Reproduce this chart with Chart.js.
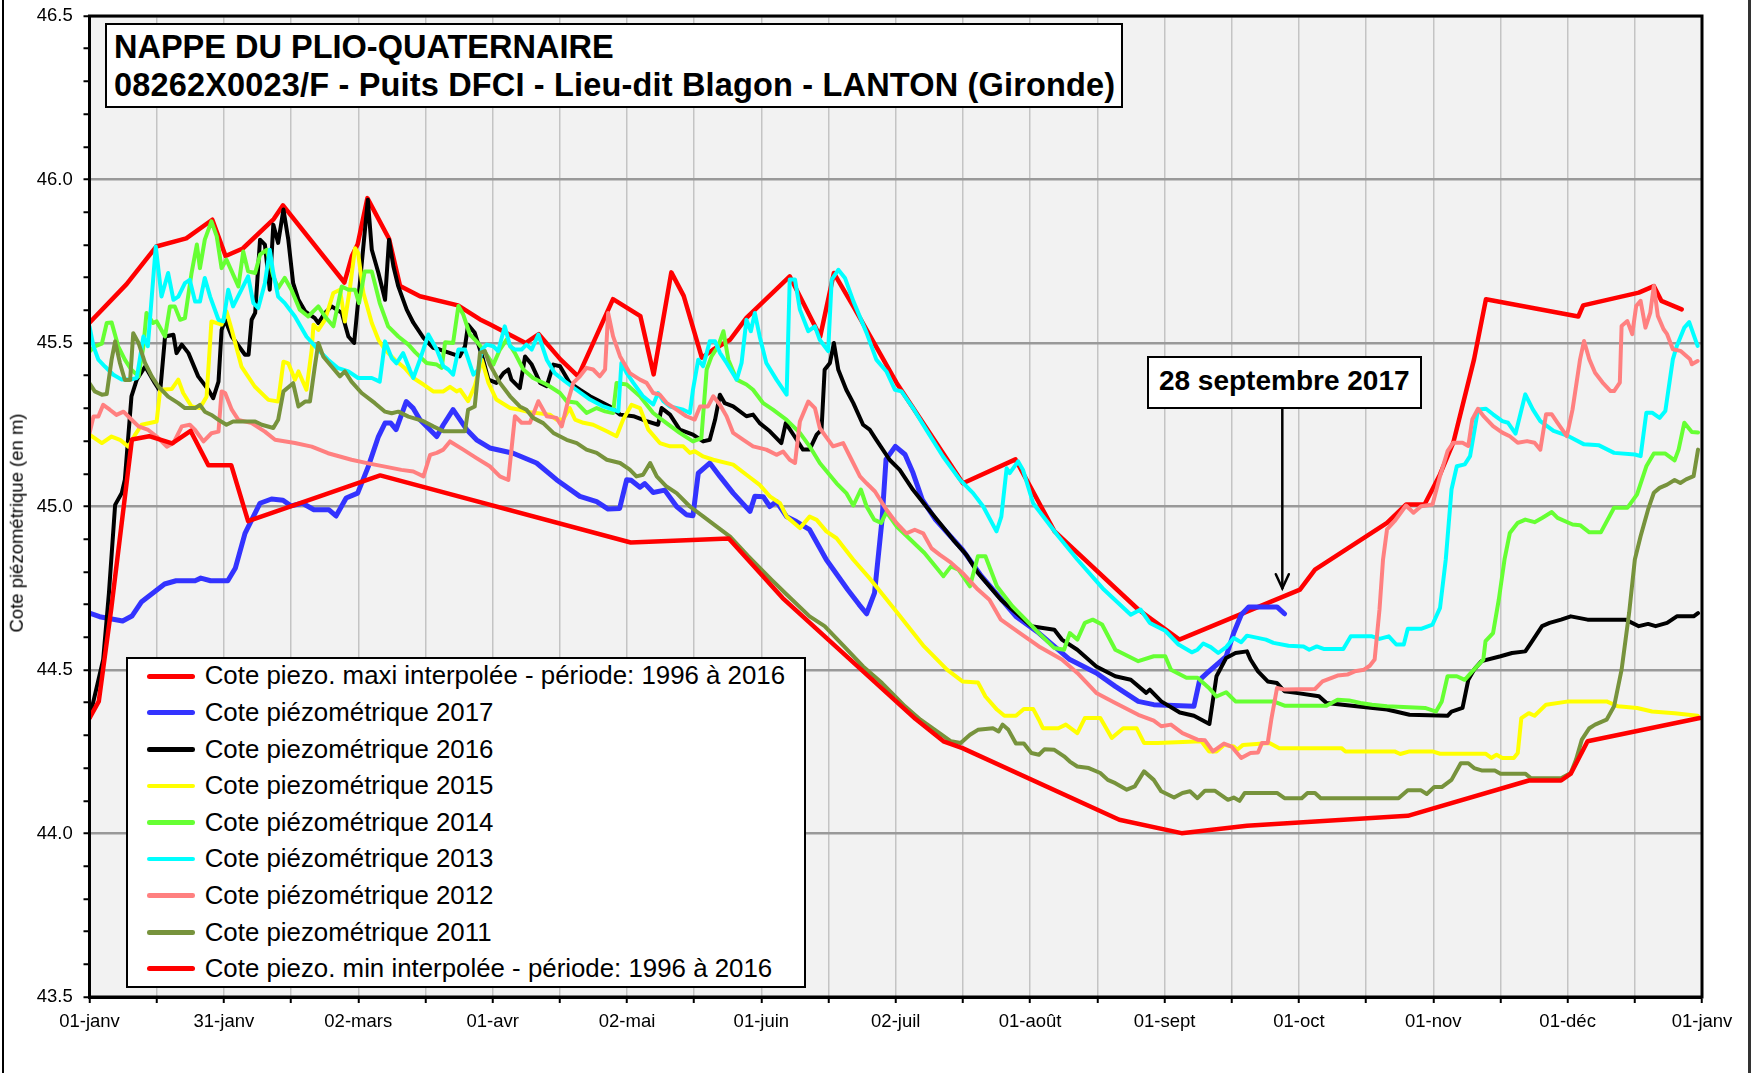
<!DOCTYPE html>
<html>
<head>
<meta charset="utf-8">
<script src="https://cdn.jsdelivr.net/npm/chart.js@4.4.1/dist/chart.umd.min.js"></script>
<style>
html,body{margin:0;padding:0;background:#fff;}
#wrap{position:relative;width:1754px;height:1073px;overflow:hidden;font-family:'Liberation Sans',Arial,sans-serif;color:#000;}
#c{position:absolute;left:0;top:0;}
.box{position:absolute;background:#fff;border:2px solid #000;box-sizing:border-box;}
.t{position:absolute;white-space:nowrap;line-height:1;color:#000;}
.vline{position:absolute;top:0;height:1073px;}
</style>
</head>
<body>
<div id="wrap">
<canvas id="c" width="1754" height="1073"></canvas>
</div>
<script>
// ---------------- DATA ----------------
const xTickLabels = ['01-janv','31-janv','02-mars','01-avr','02-mai','01-juin','02-juil','01-août','01-sept','01-oct','01-nov','01-déc','01-janv'];
const titleLines = ['NAPPE DU PLIO-QUATERNAIRE','08262X0023/F - Puits DFCI - Lieu-dit Blagon - LANTON (Gironde)'];
const yAxisTitle = 'Cote piézométrique (en m)';
const annotText = '28 septembre 2017';
const annotDay = 270;          // 28 septembre (day of year, 0 = 1er janvier)
const annotTipValue = 44.75;

const seriesLabels = [
  'Cote piezo. maxi interpolée - période: 1996 à 2016',
  'Cote piézométrique 2017',
  'Cote piezométrique 2016',
  'Cote piezométrique 2015',
  'Cote piézométrique 2014',
  'Cote piézométrique 2013',
  'Cote piézométrique 2012',
  'Cote piezométrique 2011',
  'Cote piezo. min interpolée - période: 1996 à 2016'
];

// [day of year, level (m)]
const maxiInterp = [[0,45.562],[8.4,45.68],[15.1,45.795],[21.9,45.82],[27.8,45.877],[30.8,45.766],[34.7,45.789],[41.7,45.879],[43.8,45.921],[57.7,45.685],[59.4,45.766],[60.7,45.802],[62.9,45.943],[67.8,45.819],[70.3,45.674],[74.8,45.643],[83.4,45.615],[88.4,45.572],[90.6,45.557],[98.7,45.5],[101.7,45.527],[106.6,45.45],[110.6,45.398],[118.5,45.634],[124.7,45.582],[127.7,45.404],[131.7,45.716],[134.5,45.644],[138.6,45.455],[141.2,45.48],[145,45.51],[148.7,45.577],[158.5,45.704],[165.4,45.52],[168.5,45.714],[172.9,45.612],[182.7,45.378],[197.7,45.071],[209.6,45.144],[218.4,44.925],[237.4,44.685],[246.7,44.593],[274,44.746],[277.4,44.807],[293.7,44.95],[298,45.006],[302.2,45.006],[305.7,45.098],[308.7,45.195],[313.4,45.45],[316.1,45.634],[337,45.581],[338.1,45.615],[350.7,45.654],[354.1,45.674],[355.8,45.629],[360.4,45.603]];

const cote2017 = [[0,44.674],[2.3,44.663],[7.5,44.65],[9.6,44.665],[11.8,44.709],[17,44.763],[19.6,44.773],[23.9,44.773],[25.2,44.781],[27.4,44.773],[31.3,44.773],[33,44.811],[35.2,44.918],[38.6,45.01],[41.2,45.023],[43.8,45.019],[45.6,45.002],[48.2,45.01],[50.8,44.99],[54.2,44.99],[55.8,44.971],[58.1,45.026],[60.7,45.041],[63.1,45.122],[65.4,45.214],[66.9,45.255],[68.2,45.255],[69.4,45.235],[71.7,45.321],[73.3,45.3],[74.8,45.265],[78.6,45.214],[80.1,45.25],[82.3,45.296],[85.4,45.235],[87.6,45.204],[90.6,45.179],[95.9,45.163],[101.2,45.133],[105.7,45.082],[111,45.031],[114.8,45.015],[117.4,44.992],[120,44.994],[121.6,45.082],[122.6,45.08],[124.6,45.059],[125.7,45.07],[127.6,45.043],[130.2,45.05],[132.9,45.0],[135.1,44.975],[136.6,44.972],[137.8,45.102],[140.4,45.133],[142.7,45.092],[145.7,45.041],[149.5,44.985],[150.6,45.031],[152.5,45.03],[154,45.0],[155.5,45.015],[157.8,44.969],[160,44.954],[163,44.929],[166.8,44.837],[171.6,44.746],[174.2,44.7],[175.9,44.672],[177.7,44.736],[179.4,44.96],[180.3,45.144],[182.4,45.184],[184.6,45.159],[186.4,45.103],[188.5,45.021],[191.5,44.96],[197.6,44.868],[201.9,44.787],[209.7,44.664],[214.9,44.613],[221.9,44.532],[227.9,44.491],[232.2,44.45],[237.4,44.404],[240.9,44.394],[250,44.389],[251.3,44.47],[253,44.491],[255.1,44.516],[257.3,44.542],[259,44.613],[260.7,44.669],[262.4,44.693],[268.8,44.693],[270.5,44.672]];

const cote2016 = [[0,44.353],[3.1,44.532],[4.4,44.736],[5.8,45.005],[7.3,45.041],[8,45.082],[9.5,45.337],[10.7,45.388],[12.6,45.428],[14.8,45.377],[16,45.352],[17.1,45.52],[19,45.525],[19.7,45.469],[20.9,45.495],[22.4,45.469],[24.6,45.398],[26.9,45.357],[28,45.331],[29.2,45.382],[29.9,45.54],[30.7,45.571],[32.2,45.52],[35.2,45.464],[36,45.464],[36.7,45.571],[37.5,45.592],[38.6,45.816],[39.7,45.801],[40.8,45.663],[41.6,45.862],[42.7,45.806],[43.9,45.908],[45,45.816],[46.1,45.683],[47.3,45.632],[48.8,45.597],[51,45.576],[51.8,45.561],[53.3,45.592],[54.8,45.612],[57.1,45.592],[58.6,45.52],[59.9,45.5],[61.2,45.683],[63,45.938],[63.9,45.785],[65.4,45.714],[66.9,45.632],[67.8,45.816],[68.8,45.734],[69.9,45.673],[71.8,45.602],[73.3,45.562],[75.6,45.516],[77.8,45.485],[79.3,45.48],[83.8,45.459],[85,45.49],[85.7,45.556],[87.2,45.531],[89.1,45.449],[90.3,45.388],[92.1,45.378],[93.7,45.408],[94.8,45.419],[95.5,45.388],[97.4,45.362],[98.6,45.459],[100.1,45.434],[102,45.378],[103.5,45.368],[105,45.434],[106.5,45.429],[108.7,45.378],[111,45.357],[113.3,45.337],[115.5,45.322],[117.8,45.306],[120.1,45.281],[123.1,45.276],[126.1,45.261],[128.7,45.25],[129.5,45.301],[131.4,45.281],[133.6,45.235],[136.6,45.22],[138.9,45.199],[140.4,45.204],[141.6,45.265],[142.7,45.342],[143.8,45.316],[145.7,45.306],[148.7,45.276],[150.2,45.281],[151.7,45.255],[154,45.23],[156.6,45.194],[157.6,45.255],[159.6,45.214],[161.5,45.174],[163,45.174],[164.6,45.22],[165.7,45.235],[166.4,45.418],[167.6,45.439],[168.5,45.5],[169.5,45.418],[171.3,45.357],[172.9,45.316],[175.1,45.25],[176.6,45.235],[178.1,45.204],[181.1,45.143],[183.4,45.112],[186.4,45.051],[189.4,45.0],[192.5,44.949],[195.5,44.898],[198.5,44.852],[201.1,44.797],[206.3,44.715],[213.2,44.634],[218.4,44.623],[220.1,44.593],[223.6,44.562],[227.9,44.511],[232.2,44.481],[235.7,44.47],[239.2,44.43],[240,44.44],[242.6,44.404],[246.8,44.37],[250,44.36],[253.5,44.335],[255.1,44.481],[257.3,44.537],[259.4,44.552],[262,44.557],[262.8,44.532],[264.5,44.496],[266.7,44.465],[268.8,44.46],[270.5,44.435],[273.1,44.43],[278.3,44.42],[280,44.399],[286.8,44.389],[293.7,44.379],[298.8,44.363],[307.4,44.36],[308.3,44.373],[310.8,44.384],[312.1,44.47],[313.4,44.501],[315.1,44.527],[319.4,44.542],[322,44.552],[325,44.557],[326.3,44.583],[328.8,44.634],[330.5,44.644],[333.1,44.654],[335.3,44.664],[339.1,44.654],[347.7,44.654],[350.7,44.634],[352.8,44.641],[354.5,44.634],[357.1,44.644],[359.3,44.664],[363.1,44.664],[364.1,44.674]];

const cote2015 = [[0,45.22],[2.8,45.194],[5,45.214],[6.9,45.204],[8.8,45.183],[10.3,45.219],[11.8,45.25],[15.2,45.26],[16,45.357],[18.6,45.359],[20.1,45.388],[21.2,45.347],[23.1,45.306],[25,45.301],[26.5,45.336],[27.6,45.566],[29.9,45.556],[31,45.597],[32.2,45.54],[34.4,45.428],[37.4,45.367],[40.5,45.326],[42.7,45.321],[43.9,45.443],[45,45.438],[46.5,45.388],[47.3,45.413],[49.1,45.357],[50.3,45.479],[50.7,45.556],[51.8,45.54],[53.3,45.571],[55.2,45.653],[56.7,45.663],[57.8,45.566],[59,45.673],[60.1,45.79],[60.8,45.775],[62,45.653],[63.9,45.561],[65.4,45.51],[66.9,45.479],[69.1,45.449],[71.4,45.423],[73.3,45.393],[75.6,45.373],[77.8,45.352],[80.1,45.352],[81.6,45.366],[83.1,45.352],[83.9,45.357],[85.7,45.322],[87.2,45.368],[88.8,45.449],[90.3,45.378],[92.1,45.327],[95.2,45.301],[97.4,45.296],[99.7,45.288],[104.2,45.281],[105.7,45.266],[107.2,45.266],[108.7,45.301],[109.9,45.266],[111.8,45.256],[114,45.25],[117.1,45.23],[119.3,45.215],[120.8,45.266],[122.7,45.311],[124.6,45.301],[126.5,45.235],[129.1,45.194],[131.4,45.184],[134.4,45.184],[135.9,45.164],[137,45.169],[138.9,45.153],[141.2,45.143],[145.7,45.128],[148.7,45.097],[151.7,45.066],[154,45.031],[156.3,45.01],[157.8,44.969],[160.8,44.934],[163,44.969],[164.6,44.959],[166.8,44.924],[169.1,44.903],[172.9,44.837],[176.8,44.777],[182.9,44.674],[188.9,44.572],[194.1,44.501],[197.6,44.465],[201.1,44.462],[202.8,44.419],[205.4,44.379],[207.1,44.36],[209.7,44.36],[211.5,44.381],[213.6,44.381],[214.9,44.348],[215.8,44.322],[219.3,44.322],[221,44.333],[223.6,44.307],[225.3,44.353],[228.8,44.353],[231.4,44.292],[234,44.322],[237,44.322],[238.7,44.277],[241.8,44.277],[251.7,44.282],[253.4,44.251],[255.1,44.251],[256.8,44.271],[259,44.266],[259.8,44.256],[261.1,44.271],[267.1,44.277],[269.3,44.261],[283.4,44.261],[284.3,44.251],[295.4,44.251],[296.7,44.243],[298.8,44.251],[304,44.251],[305.7,44.244],[316,44.244],[317.3,44.231],[318.5,44.241],[319.8,44.231],[322.4,44.231],[323.3,44.246],[324.1,44.353],[325.8,44.368],[327.1,44.36],[329.7,44.394],[334.8,44.404],[343.4,44.404],[346,44.389],[350.3,44.384],[353.7,44.373],[358.8,44.368],[364,44.36]];

const cote2014 = [[0,45.474],[1.2,45.49],[2.8,45.498],[3.9,45.561],[5,45.563],[6.5,45.49],[8,45.449],[9.5,45.418],[11.1,45.398],[12.2,45.49],[12.9,45.592],[14.4,45.561],[15.2,45.566],[17.1,45.52],[18.2,45.612],[19.3,45.612],[20.5,45.571],[21.6,45.576],[23.1,45.714],[24.3,45.801],[25,45.729],[26.1,45.816],[27.6,45.872],[28.8,45.826],[29.9,45.729],[31,45.755],[32.2,45.719],[33.7,45.673],[34.8,45.78],[35.9,45.719],[37.5,45.714],[38.6,45.77],[40.1,45.785],[41.6,45.704],[42.7,45.668],[44.2,45.699],[45.7,45.663],[47.6,45.602],[49.5,45.581],[51.8,45.612],[53.3,45.581],[55.2,45.551],[57.1,45.673],[58.6,45.663],[60.1,45.663],[61,45.622],[62.3,45.719],[63.9,45.719],[65.7,45.622],[67.6,45.551],[69.9,45.52],[72.2,45.495],[73.7,45.472],[76.3,45.439],[78.6,45.434],[79.7,45.424],[80.5,45.502],[82.3,45.5],[83.5,45.613],[84.6,45.587],[86.1,45.526],[87.6,45.505],[89.1,45.48],[91.4,45.434],[92.9,45.48],[94.4,45.51],[96.3,45.469],[98.2,45.419],[100.4,45.393],[103.5,45.373],[106.5,45.347],[108,45.322],[110.3,45.317],[112.5,45.286],[114.8,45.301],[116.7,45.291],[118.5,45.286],[119.3,45.378],[121.6,45.373],[124.6,45.337],[127.6,45.286],[130.6,45.255],[133.6,45.225],[136.6,45.199],[138.5,45.209],[139.7,45.419],[140.8,45.459],[142.3,45.49],[143.5,45.536],[144.6,45.449],[146.5,45.388],[148.7,45.373],[150.2,45.357],[152.5,45.316],[154.7,45.296],[157.8,45.265],[160.8,45.225],[163,45.184],[165.3,45.133],[169.1,45.071],[171.3,45.041],[172.9,45.003],[174.6,45.052],[175.9,45.0],[177.6,44.96],[179.2,44.95],[180.4,44.983],[182.7,44.939],[184.8,44.912],[189,44.858],[193.3,44.787],[195,44.817],[196.7,44.807],[199.3,44.756],[201.1,44.848],[202.8,44.848],[205.4,44.756],[208.9,44.695],[214.9,44.613],[218.4,44.567],[220.6,44.562],[221.9,44.613],[223.6,44.593],[225.3,44.644],[227.1,44.654],[229.2,44.639],[232.2,44.562],[237.4,44.527],[240.9,44.542],[243.5,44.542],[244.8,44.501],[248.3,44.476],[250.8,44.476],[253.4,44.445],[255.1,44.419],[257.3,44.432],[259.4,44.404],[268,44.404],[270.5,44.391],[280,44.391],[282.5,44.409],[285.1,44.407],[287.7,44.399],[290.3,44.394],[293.7,44.389],[302.3,44.384],[304.8,44.373],[306.1,44.404],[307.4,44.481],[309.5,44.481],[311.3,44.47],[313,44.496],[315.5,44.532],[316,44.588],[317.7,44.613],[319,44.715],[320.3,44.838],[321.5,44.919],[323.3,44.95],[325,44.96],[327.1,44.952],[328.8,44.965],[331,44.983],[332.3,44.965],[335.7,44.945],[337.4,44.943],[339.5,44.921],[342.1,44.921],[345.1,44.996],[348.1,44.996],[350.3,45.037],[352.4,45.123],[354.1,45.162],[356.7,45.162],[358.8,45.141],[359.7,45.174],[361,45.256],[362.7,45.228],[364.1,45.226]];

const cote2013 = [[0,45.551],[0.9,45.49],[2,45.449],[3.5,45.428],[5.4,45.403],[7.3,45.388],[9.2,45.388],[10.7,45.393],[12.2,45.52],[13.2,45.49],[15,45.795],[16.3,45.642],[17.8,45.714],[19,45.632],[20.1,45.642],[21.6,45.683],[22.7,45.693],[23.9,45.627],[25,45.627],[26.1,45.699],[27.3,45.642],[29.2,45.571],[30.3,45.566],[31.4,45.663],[32.5,45.612],[34.4,45.663],[35.9,45.704],[37.1,45.622],[38.2,45.607],[39.7,45.683],[40.8,45.785],[41.6,45.714],[42.7,45.642],[44.2,45.622],[46.5,45.581],[49.1,45.52],[51.8,45.479],[54,45.449],[56.3,45.423],[58.6,45.413],[60.8,45.393],[63.9,45.393],[65.7,45.382],[66.9,45.505],[68.4,45.454],[69.5,45.438],[71,45.469],[72.5,45.418],[73.3,45.393],[74.8,45.449],[76.7,45.526],[78.6,45.48],[80.1,45.429],[81.2,45.419],[82.3,45.403],[83.5,45.48],[85,45.48],[86.9,45.403],[88,45.419],[88.8,45.48],[89.9,45.495],[91.4,45.49],[92.5,45.475],[94,45.551],[95.2,45.49],[96.3,45.48],[97.8,45.48],[98.9,45.495],[100.1,45.48],[101.6,45.526],[103.5,45.449],[105.3,45.408],[107.6,45.383],[110.2,45.357],[113.3,45.327],[116.3,45.306],[118.5,45.296],[119.7,45.291],[120.4,45.439],[121.6,45.408],[123.1,45.378],[125.3,45.337],[127.6,45.312],[128.7,45.347],[129.9,45.322],[131.4,45.306],[134.4,45.296],[135.9,45.286],[136.6,45.357],[137.8,45.449],[138.9,45.429],[140.4,45.505],[141.6,45.505],[142.7,45.47],[144.2,45.439],[146.5,45.388],[147.6,45.439],[148.7,45.571],[149.7,45.536],[150.6,45.592],[151.7,45.52],[153.2,45.439],[155.5,45.388],[157.8,45.342],[158.5,45.694],[159.7,45.694],[160.8,45.602],[162.7,45.536],[164.2,45.551],[165.3,45.51],[167.2,45.475],[168,45.694],[169.5,45.724],[171,45.699],[172.9,45.628],[175.9,45.531],[178.1,45.449],[180.4,45.413],[182.3,45.357],[183.8,45.352],[186.4,45.301],[189.4,45.235],[193.2,45.153],[197,45.082],[200,45.041],[202.3,45.0],[205.3,44.924],[206.4,44.969],[207.6,45.117],[208.3,45.102],[210.2,45.138],[211.3,45.112],[213.6,45.01],[219.3,44.909],[223.6,44.838],[229.6,44.746],[235.7,44.669],[237.9,44.685],[240,44.644],[243.5,44.62],[246.5,44.578],[249.5,44.554],[250.8,44.562],[252.1,44.581],[253.8,44.57],[255.5,44.552],[257.3,44.57],[259,44.598],[260.7,44.585],[262,44.605],[266.3,44.593],[268,44.583],[271.4,44.574],[274.8,44.572],[276.1,44.562],[277.8,44.572],[279.5,44.564],[283.8,44.564],[285.5,44.603],[290.3,44.603],[292,44.595],[294.1,44.603],[295.8,44.578],[297.5,44.578],[298.4,44.626],[301.4,44.626],[304,44.639],[305.7,44.69],[307,44.838],[308.3,45.052],[309.5,45.123],[311.3,45.129],[312.5,45.154],[314.3,45.297],[316.1,45.299],[317.7,45.282],[319.8,45.261],[321.1,45.256],[322.8,45.223],[325,45.343],[326.7,45.297],[328.4,45.261],[331.4,45.231],[334.8,45.215],[338.3,45.19],[341.7,45.187],[345.1,45.164],[349.8,45.159],[351.1,45.154],[352.4,45.287],[353.7,45.287],[355.4,45.271],[356.7,45.292],[358.4,45.45],[359.3,45.491],[361,45.547],[362.1,45.564],[364,45.491]];

const cote2012 = [[0,45.224],[0.9,45.275],[2,45.275],[3.1,45.311],[4.6,45.296],[6.1,45.28],[7.7,45.29],[9.2,45.27],[11.1,45.245],[13.3,45.234],[15.2,45.214],[17.5,45.183],[19,45.194],[20.9,45.245],[22.7,45.25],[23.9,45.234],[25.8,45.199],[27.6,45.224],[29.2,45.229],[29.9,45.352],[30.7,45.347],[32.2,45.296],[33.7,45.265],[36.7,45.255],[39.7,45.229],[42,45.204],[46.5,45.194],[50.3,45.183],[54,45.163],[59.3,45.143],[63.1,45.132],[66.9,45.122],[70.6,45.112],[73.3,45.107],[75.6,45.092],[77.1,45.158],[78.6,45.164],[80.1,45.174],[81.6,45.199],[84.6,45.174],[87.6,45.148],[90.6,45.123],[92.9,45.092],[94.8,45.081],[96.3,45.276],[97.8,45.256],[99.7,45.256],[101.6,45.322],[103.5,45.276],[105.7,45.271],[106.9,45.245],[108.4,45.327],[109.5,45.378],[111,45.398],[112.5,45.424],[114,45.419],[115.5,45.398],[116.7,45.419],[117.4,45.592],[118.5,45.521],[120.1,45.459],[122.3,45.408],[124.6,45.388],[126.1,45.378],[127.6,45.347],[129.1,45.342],[130.6,45.317],[132.9,45.296],[135.1,45.276],[137,45.266],[138.2,45.306],[140,45.306],[141.2,45.337],[142.7,45.311],[144.2,45.276],[145.7,45.225],[148,45.204],[150.2,45.184],[153.2,45.174],[155.5,45.158],[157,45.168],[158.5,45.143],[159.7,45.133],[160.8,45.26],[162.7,45.321],[164.2,45.301],[165.3,45.24],[166.4,45.219],[168.3,45.184],[170.6,45.194],[172.5,45.143],[174.4,45.092],[175.9,45.071],[177.8,45.046],[180.4,44.99],[182.7,44.949],[184.9,44.918],[186.8,44.929],[188.7,44.918],[190.6,44.872],[192.5,44.852],[195,44.828],[197.6,44.797],[201.1,44.746],[203.7,44.715],[206.3,44.654],[210.6,44.613],[214.9,44.572],[220.1,44.532],[223.6,44.491],[227.9,44.43],[232.2,44.399],[237.4,44.363],[240.9,44.345],[242.6,44.328],[244.8,44.333],[247.4,44.307],[250.8,44.287],[252.5,44.285],[254.3,44.251],[256.8,44.275],[258.5,44.266],[260.7,44.231],[262.8,44.246],[264.5,44.248],[265.4,44.277],[266.7,44.277],[267.5,44.348],[268.8,44.445],[270.5,44.44],[277.4,44.442],[279.1,44.465],[282.5,44.483],[284.7,44.486],[286.4,44.496],[288.5,44.501],[289.8,44.513],[290.9,44.532],[292,44.685],[292.8,44.838],[293.7,44.93],[295.4,44.955],[298,45.003],[299.7,44.981],[301.4,45.001],[304,45.006],[305.7,45.093],[307.4,45.169],[308.7,45.195],[310.8,45.195],[312.1,45.185],[313,45.266],[314.3,45.299],[315.5,45.277],[317.7,45.246],[319.8,45.226],[321.5,45.215],[323.3,45.195],[325.4,45.2],[327.1,45.195],[328.4,45.174],[329.7,45.282],[331,45.282],[332.3,45.256],[334.4,45.215],[335.7,45.297],[337.4,45.45],[338.3,45.506],[339.5,45.45],[340.8,45.409],[342.5,45.379],[344.3,45.353],[345.1,45.353],[346.4,45.379],[346.8,45.552],[348.1,45.567],[349.2,45.527],[350.1,45.613],[351.1,45.629],[352.2,45.547],[353.3,45.593],[354.1,45.674],[355,45.583],[356.3,45.542],[357.1,45.527],[358.4,45.481],[360.1,45.476],[362.3,45.45],[362.7,45.435],[364,45.445]];

const cote2011 = [[0,45.377],[1.2,45.352],[2.8,45.342],[3.9,45.344],[5,45.449],[5.8,45.505],[6.9,45.438],[8,45.387],[9.2,45.387],[9.9,45.53],[11.1,45.5],[12.6,45.438],[14.1,45.398],[15.6,45.367],[17.8,45.336],[20.1,45.316],[21.6,45.301],[23.9,45.301],[25,45.311],[26.1,45.29],[27.6,45.28],[29.2,45.265],[31,45.25],[32.5,45.26],[37.5,45.26],[39,45.25],[41.6,45.24],[42.7,45.265],[43.9,45.352],[46.1,45.377],[47.3,45.306],[48.8,45.321],[49.9,45.321],[51,45.428],[51.8,45.5],[52.9,45.459],[54.8,45.428],[56.7,45.398],[57.8,45.413],[59.3,45.382],[61.6,45.347],[64.6,45.316],[66.9,45.29],[68.4,45.285],[69.9,45.29],[72.2,45.275],[75.6,45.261],[77.8,45.245],[80.1,45.23],[85,45.23],[85.7,45.296],[87.2,45.306],[88.4,45.47],[89.5,45.475],[90.6,45.434],[92.9,45.378],[95.2,45.337],[97.4,45.306],[98.9,45.296],[100.4,45.271],[102.7,45.255],[105,45.225],[108,45.204],[110.3,45.194],[112.5,45.174],[114.8,45.164],[117.1,45.143],[120.1,45.133],[122.3,45.113],[123.8,45.092],[125.3,45.097],[126.9,45.133],[128.4,45.092],[130.6,45.061],[132.9,45.041],[135.9,45.0],[138.9,44.97],[141.9,44.939],[145,44.908],[149.1,44.848],[154.3,44.777],[157.8,44.731],[163,44.664],[166.4,44.634],[170.8,44.572],[175.1,44.511],[179.4,44.46],[184.6,44.389],[188.1,44.348],[192.4,44.307],[195,44.282],[197.2,44.277],[199.3,44.302],[201.1,44.317],[204.5,44.322],[205.8,44.312],[206.7,44.333],[208,44.317],[209.7,44.275],[211.5,44.275],[213.2,44.246],[214.9,44.241],[216.2,44.258],[218.4,44.256],[220.6,44.236],[221.9,44.22],[223.6,44.205],[226.2,44.2],[228.8,44.185],[230.5,44.164],[232.2,44.154],[234.8,44.134],[236.6,44.144],[238.7,44.19],[240.9,44.164],[242.6,44.129],[245.5,44.11],[247.4,44.124],[249.1,44.129],[250.8,44.108],[252.5,44.131],[254.7,44.131],[257.7,44.103],[259,44.11],[260.3,44.1],[261.5,44.124],[268.8,44.124],[270.5,44.108],[274.4,44.108],[275.7,44.124],[277.4,44.124],[278.7,44.108],[296.3,44.108],[298.4,44.132],[301.4,44.132],[302.7,44.121],[304.4,44.142],[306.1,44.142],[308.3,44.164],[310.4,44.215],[312.1,44.215],[313.4,44.2],[315.1,44.193],[318.1,44.193],[319.4,44.183],[325,44.183],[326.3,44.169],[333.1,44.169],[335.3,44.185],[336.5,44.226],[337.8,44.287],[339.5,44.322],[340.8,44.333],[343.4,44.348],[345.1,44.389],[346.8,44.501],[348.5,44.674],[349.8,44.838],[351.1,44.909],[352.8,44.991],[354.1,45.042],[355.4,45.057],[357.1,45.067],[358.8,45.081],[360.1,45.072],[361.4,45.083],[363.1,45.093],[364.1,45.174]];

const miniInterp = [[0,44.353],[2.1,44.404],[4.9,44.685],[9.6,45.205],[13.5,45.215],[18.7,45.193],[22.9,45.231],[26.9,45.126],[32.1,45.126],[35.9,44.955],[65.8,45.095],[122.5,44.89],[144.7,44.902],[156.9,44.72],[187,44.35],[193.3,44.282],[197.6,44.261],[233.1,44.042],[247.2,44.001],[262,44.024],[298.4,44.054],[325.8,44.162],[333.1,44.162],[335.3,44.183],[339.1,44.282],[364.5,44.353]];

// ---------------- STYLE ----------------
const FONT = "'Liberation Sans', Arial, sans-serif";
const seriesData = [maxiInterp, cote2017, cote2016, cote2015, cote2014, cote2013, cote2012, cote2011, miniInterp];
const seriesColors = ['#FF0000','#3333FF','#000000','#FFFF00','#66FF33','#00FFFF','#FF8080','#77933C','#FF0000'];
const seriesWidths = [4.5, 5, 4, 4, 4, 4, 4, 4, 4.5];

const DAYS = 365;
const xTickValues = Array.from({length: 25}, (_, i) => i * DAYS / 24);
const yTickValues = Array.from({length: 31}, (_, i) => Math.round((43.5 + i * 0.1) * 10) / 10);
const isMajor = v => Math.abs(v * 2 - Math.round(v * 2)) < 1e-6;

const PLOT = {left: 89.5, right: 1702, top: 16, bottom: 997};
const ANNOT_BOX = {left: 1147, top: 356, width: 274.5, height: 52.5};

const framePlugin = {
  id: 'frame',
  beforeDraw(chart) {
    const {ctx, chartArea: a} = chart;
    ctx.save();
    ctx.fillStyle = '#F2F2F2';
    ctx.fillRect(a.left, a.top, a.right - a.left, a.bottom - a.top);
    ctx.restore();
  },
  afterDatasetsDraw(chart) {
    const {ctx, chartArea: a, scales: {x, y}} = chart;
    ctx.save();
    ctx.strokeStyle = '#000';
    ctx.lineWidth = 3;
    ctx.strokeRect(a.left, a.top, a.right - a.left, a.bottom - a.top);
    // annotation arrow
    const ax = x.getPixelForValue(annotDay);
    const tip = y.getPixelForValue(annotTipValue);
    ctx.lineWidth = 2.5;
    ctx.lineCap = 'round';
    ctx.beginPath();
    ctx.moveTo(ax, ANNOT_BOX.top + ANNOT_BOX.height);
    ctx.lineTo(ax, tip);
    ctx.stroke();
    ctx.beginPath();
    ctx.moveTo(ax - 6.5, tip - 14);
    ctx.lineTo(ax, tip);
    ctx.lineTo(ax + 6.5, tip - 14);
    ctx.stroke();
    ctx.restore();
  }
};

const datasets = seriesData.map((arr, i) => ({
  label: seriesLabels[i],
  data: arr.map(([d, v]) => ({x: d, y: v})),
  borderColor: seriesColors[i],
  backgroundColor: seriesColors[i],
  borderWidth: seriesWidths[i],
  pointRadius: 0,
  tension: 0,
  fill: false,
  order: seriesData.length - i
}));

new Chart(document.getElementById('c'), {
  type: 'line',
  data: {datasets},
  options: {
    responsive: false,
    animation: false,
    devicePixelRatio: 1,
    layout: {padding: {left: 0, top: PLOT.top, right: 1754 - PLOT.right, bottom: 0}},
    plugins: {legend: {display: false}, tooltip: {enabled: false}},
    elements: {line: {borderJoinStyle: 'round', borderCapStyle: 'round'}},
    scales: {
      x: {
        type: 'linear', min: 0, max: DAYS,
        afterBuildTicks: s => { s.ticks = xTickValues.map(v => ({value: v})); },
        afterFit: s => { s.height = 1073 - PLOT.bottom; },
        ticks: {
          autoSkip: false, maxRotation: 0, minRotation: 0, padding: 7.5, color: '#000',
          font: {family: FONT, size: 18.5},
          callback: (v, i) => (i % 2 === 0 ? xTickLabels[i / 2] : '')
        },
        grid: {color: '#C4C4C4', lineWidth: 1.5, tickLength: 6, tickColor: '#000', tickWidth: 2},
        border: {color: '#000', width: 3}
      },
      y: {
        min: 43.5, max: 46.5,
        afterBuildTicks: s => { s.ticks = yTickValues.map(v => ({value: v})); },
        afterFit: s => { s.width = PLOT.left; },
        ticks: {
          autoSkip: false, padding: 10.8, color: '#000',
          font: {family: FONT, size: 18.5, lineHeight: 0.4},
          callback: v => (isMajor(v) ? v.toFixed(1) : '')
        },
        grid: {
          color: ctx => (isMajor(ctx.tick.value) ? '#999999' : 'rgba(0,0,0,0)'),
          lineWidth: 2.5, tickLength: 6, tickColor: '#000', tickWidth: 2
        },
        border: {color: '#000', width: 3}
      }
    }
  },
  plugins: [framePlugin]
});

// ---------------- HTML overlays (title box, legend, annotation, axis title) ----------------
const wrap = document.getElementById('wrap');
function el(tag, cls, style, text) {
  const e = document.createElement(tag);
  if (cls) e.className = cls;
  Object.assign(e.style, style);
  if (text !== undefined) e.textContent = text;
  wrap.appendChild(e);
  return e;
}
// outer frame lines
el('div', 'vline', {left: '2px', width: '2px', background: '#000'});
el('div', 'vline', {left: '1748px', width: '3px', background: '#333'});

// Y axis title
el('div', 't', {left: '16.5px', top: '523px', fontSize: '18.5px', transform: 'translate(-50%,-50%) rotate(-90deg)'}, yAxisTitle);

// Title box
el('div', 'box', {left: '105px', top: '23px', width: '1018px', height: '85px'});
const TFS = 32.5;
titleLines.forEach((s, i) => {
  const baseline = [58.5, 97][i];
  el('div', 't', {left: '114px', top: (baseline - (0.905 - 0.0585) * TFS) + 'px', fontSize: TFS + 'px', fontWeight: 'bold', letterSpacing: (i === 1 ? 0.17 : 0) + 'px'}, s);
});

// Legend box
el('div', 'box', {left: '125.5px', top: '657px', width: '680px', height: '331px', borderWidth: '2.5px'});
const LFS = 25.85;
seriesLabels.forEach((s, i) => {
  const cy = 676.1 + i * 36.6;
  const w = seriesWidths[i] + 0.5;
  el('div', '', {position: 'absolute', left: '146.5px', width: '48px', top: (cy - w / 2) + 'px', height: w + 'px', background: seriesColors[i], borderRadius: (w / 2) + 'px'});
  el('div', 't', {left: '204.7px', top: (cy + 9.2 - (0.905 - 0.0585) * LFS) + 'px', fontSize: LFS + 'px'}, s);
});

// Annotation box
el('div', 'box', {left: ANNOT_BOX.left + 'px', top: ANNOT_BOX.top + 'px', width: ANNOT_BOX.width + 'px', height: ANNOT_BOX.height + 'px'});
const AFS = 28;
el('div', 't', {left: (ANNOT_BOX.left + ANNOT_BOX.width / 2) + 'px', top: (390.7 - (0.905 - 0.0585) * AFS) + 'px', fontSize: AFS + 'px', fontWeight: 'bold', transform: 'translateX(-50%)'}, annotText);
</script>
</body>
</html>
